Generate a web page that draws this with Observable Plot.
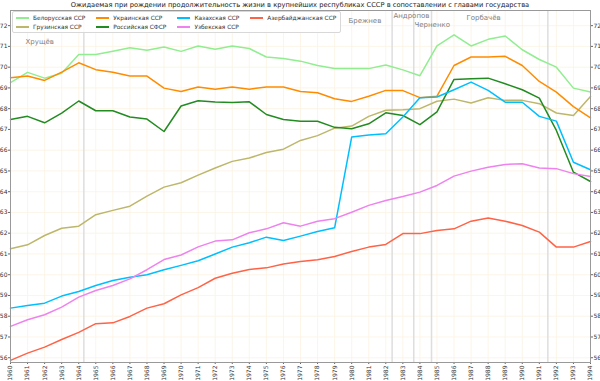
<!DOCTYPE html>
<html>
<head>
<meta charset="utf-8">
<script src="https://cdn.jsdelivr.net/npm/d3@7"></script>
<script src="https://cdn.jsdelivr.net/npm/@observablehq/plot@0.6"></script>
<style>
  body { margin: 0; background: white; }
  #wrap { position: relative; width: 600px; height: 381px; font-family: "DejaVu Sans", sans-serif; }
  #title { height: 10px; line-height: 10px; font-size: 6.7px; text-align: center; color: #222; white-space: nowrap; }
  #legend { position: absolute; left: 12px; top: 11px; background: rgba(255,255,255,0.85);
    border: 1px solid #d8d8d8; border-radius: 2px; padding: 1px 4px 1px 3px;
    display: grid; grid-template-rows: 9px 9px; grid-auto-flow: column; column-gap: 11px;
    font-size: 5.8px; color: #333; }
  .item { display: flex; align-items: center; white-space: nowrap; }
  .sw { width: 13px; height: 2px; margin-right: 4px; }
</style>
</head>
<body>
<div id="wrap">
  <div id="title"></div>
  <div id="chart"></div>
  <div id="legend"></div>
</div>
<script>
const titleText = "Ожидаемая при рождении продолжительность жизни в крупнейших республиках СССР в сопоставлении с главами государства";

const years = [1960,1961,1962,1963,1964,1965,1966,1967,1968,1969,1970,1971,1972,1973,1974,1975,1976,1977,1978,1979,1980,1981,1982,1983,1984,1985,1986,1987,1988,1989,1990,1991,1992,1993,1994];

const seriesNames = ["Белорусская ССР","Грузинская ССР","Украинская ССР","Российская СФСР","Казахская ССР","Узбекская ССР","Азербайджанская ССР"];
const seriesColors = ["#90ee90","#bdb76b","#ff8c00","#228b22","#00bfff","#ee82ee","#ff6347"];

const belarus = [69.25,69.75,69.47,69.71,70.61,70.61,70.77,70.93,70.81,70.97,70.76,71.02,70.86,71.02,70.9,70.49,70.42,70.29,70.08,69.94,69.93,69.93,70.1,69.87,69.59,71.02,71.56,71.02,71.34,71.5,70.84,70.37,70.0,68.99,68.8];
const georgia = [61.25,61.44,61.89,62.24,62.34,62.89,63.1,63.3,63.79,64.22,64.43,64.8,65.14,65.46,65.62,65.89,66.05,66.47,66.7,67.06,67.16,67.63,67.92,67.95,68.0,68.36,68.46,68.27,68.53,68.4,68.4,68.24,67.79,67.67,68.59];
const ukraine = [69.49,69.57,69.36,69.76,70.21,69.88,69.75,69.57,69.57,68.99,68.83,69.04,68.93,69.04,68.94,69.04,69.04,68.83,68.77,68.48,68.35,68.6,68.88,68.87,68.53,68.6,70.08,70.49,70.49,70.52,70.08,69.31,68.8,68.1,67.56];
const russia = [67.48,67.63,67.32,67.79,68.37,67.9,67.9,67.6,67.5,66.9,68.13,68.38,68.32,68.3,68.33,67.72,67.48,67.39,67.39,67.1,67.03,67.27,67.8,67.67,67.23,67.85,69.41,69.44,69.47,69.2,68.91,68.51,66.95,64.94,64.49];
const kazakh = [58.39,58.52,58.63,58.97,59.19,59.48,59.72,59.88,60.0,60.24,60.45,60.67,61.0,61.33,61.54,61.81,61.65,61.86,62.08,62.26,66.63,66.73,66.79,67.6,68.53,68.56,68.91,69.28,68.88,68.31,68.31,67.63,67.4,65.42,65.06];
const uzbek = [57.51,57.83,58.07,58.44,58.92,59.24,59.48,59.8,60.24,60.73,60.95,61.34,61.62,61.68,62.02,62.21,62.5,62.34,62.58,62.7,63.01,63.34,63.58,63.77,63.98,64.3,64.75,64.99,65.18,65.31,65.35,65.14,65.11,64.87,64.73];
const azerbaijan = [55.87,56.22,56.51,56.88,57.22,57.64,57.68,57.99,58.39,58.6,59.03,59.38,59.83,60.07,60.25,60.33,60.52,60.64,60.72,60.88,61.12,61.33,61.46,61.98,61.98,62.13,62.21,62.58,62.73,62.58,62.37,62.05,61.33,61.33,61.6];

const yTicks = [56,57,58,59,60,61,62,63,64,65,66,67,68,69,70,71,72];

// leadership changes (as positioned on the reference time axis)
const leaderChanges = [1964.3, 1982.37, 1983.64, 1984.68, 1991.5];
const leaderNames = ["Хрущёв","Брежнев","Андропов","Черненко","Горбачёв"];
const leaderLabelX = [1960.88, 1979.81, 1982.45, 1983.68, 1986.73];
const leaderLabelY = [71.24, 72.25, 72.49, 72.06, 72.4];

const allSeries = [belarus, georgia, ukraine, russia, kazakh, uzbek, azerbaijan];
const data = [];
allSeries.forEach((vals, i) => vals.forEach((v, j) => data.push({series: seriesNames[i], year: years[j], value: v})));
const labels = leaderNames.map((n, i) => ({name: n, x: leaderLabelX[i], y: leaderLabelY[i]}));

document.getElementById("title").textContent = titleText;

const chart = Plot.plot({
  width: 600, height: 371,
  marginLeft: 10, marginRight: 10, marginTop: 0, marginBottom: 19,
  style: {fontFamily: "DejaVu Sans, sans-serif", fontSize: "6px", background: "white", overflow: "visible", color: "#333"},
  x: {domain: [1960, 1994]},
  y: {domain: [55.77, 72.73]},
  color: {domain: seriesNames, range: seriesColors},
  marks: [
    Plot.gridX(years, {stroke: "#fbf2e2", strokeOpacity: 1, strokeWidth: 0.8}),
    Plot.gridY(yTicks, {stroke: "#fbf2e2", strokeOpacity: 1, strokeWidth: 0.8}),
    Plot.ruleX(leaderChanges, {stroke: "#dedede", strokeWidth: 1.5}),
    Plot.lineY(data, {x: "year", y: "value", z: "series", stroke: "series", strokeWidth: 1.5}),
    Plot.text(labels, {x: "x", y: "y", text: "name", textAnchor: "start", fill: "#808080", fontSize: 7}),
    Plot.axisY(yTicks, {anchor: "left", tickSize: 2, tickPadding: 1, label: null, stroke: "#666"}),
    Plot.axisY(yTicks, {anchor: "right", tickSize: 2, tickPadding: 1, label: null, stroke: "#666"}),
    Plot.axisX(years, {anchor: "bottom", tickSize: 2, tickPadding: 1, tickRotate: -90, tickFormat: d => String(d), label: null, stroke: "#666"}),
    Plot.frame({stroke: "#999"})
  ]
});
document.getElementById("chart").appendChild(chart);

const legend = document.getElementById("legend");
seriesNames.forEach((n, i) => {
  const it = document.createElement("div");
  it.className = "item";
  const sw = document.createElement("span");
  sw.className = "sw";
  sw.style.background = seriesColors[i];
  const tx = document.createElement("span");
  tx.textContent = n;
  it.appendChild(sw); it.appendChild(tx);
  legend.appendChild(it);
});
</script>
</body>
</html>
